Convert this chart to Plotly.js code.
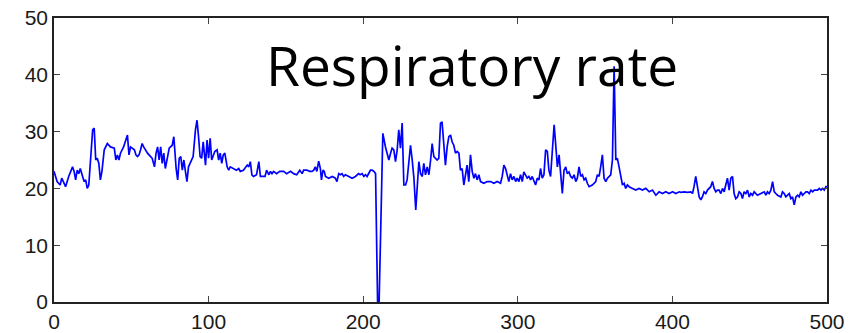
<!DOCTYPE html>
<html>
<head>
<meta charset="utf-8">
<script src="https://cdn.plot.ly/plotly-3.0.1.min.js"></script>
<style>html,body{margin:0;padding:0;background:#fff;}#chart{width:858px;height:333px;}</style>
</head>
<body>
<div id="chart"></div>
<script>
const chartTitle = "Respiratory rate";
const xTicks = [0, 100, 200, 300, 400, 500];
const yTicks = [0, 10, 20, 30, 40, 50];

const time = [
0,2,4,5,7.5,9.5,12,13,14,15,16,17,18.5,19.5,20.5,21.5,22.5,23.5,25,26,27,28,29,30,31,32.5,34.5,36.5,39,40,41,42,43,45,47.5,48.5,49.5,52,53,54,55,56,57,58,59.5,60.5,62.5,63.5,65,66,67,68,69,70,71,72,73.5,74.5,76.5,77.5,79,80,81,82,83,
84,85,86,87,89,90,91.5,92.5,93.5,94.5,95.5,96.5,98,99,100,101,102,103,104,105.5,106.5,107.5,108.5,109.5,110.5,112,113,114,116,118,119.5,120.5,122.5,125,126,127,128,129,131,132.5,133.5,134.5,136.5,137.5,139,140,141,142,144,146,148.5,150.5,153,155,157,159,160.5,161.5,163.5,165.5,
166.9,168,169,170,171.2,172.3,173,174,174.8,175.6,177.7,180,182,183,184.2,185.3,186.3,187.4,188.5,190.7,192.8,195,197,198,199.3,200.4,201.5,202.5,203.6,204.7,205.8,206.9,208,209.3,210.3,212.7,214.4,216.6,217.7,218.7,219.8,220.9,222,223,224.1,225.2,226.3,227.4,228.4,229.5,230.6,231.7,232.8,234,235,236,237.1,238.2,239.2,240.3,241.4,242.5,243.6,244.6,245.7,
246.7,247.8,248.9,250,251,252.1,253.2,254.3,255.4,256.5,257.5,258.6,259.7,260.8,261.9,262.9,264,265.1,266.2,267.2,268.3,269.4,270.5,271.6,272.6,273.7,274.8,275.9,278,280.2,282.4,284.5,286.7,288.8,289.9,291,292.1,293.2,294.2,295.3,296.4,297.5,298.6,299.6,300.7,301.8,302.9,303.9,305,306.1,307.2,308.3,309.3,310.4,311.5,312.6,313.7,314.7,315.8,316.9,318,319.1,320.1,321.2,322.3,323.5,325,
325.6,326.7,327.7,328.8,329.9,331,332,333.1,334.2,335.3,336.4,337.5,338.5,339.6,340.7,341.8,342.9,343.9,345,346.1,348.2,350.4,351.5,352.6,353.6,354.7,355.8,356.9,358,359,360.1,361.2,362.3,363.4,364.4,365.5,366.6,367.7,368.8,369.8,370.9,372,374.2,376.3,378.5,380.6,382.8,385,387.1,389.3,391.4,393.6,395.7,397.9,400.1,402.2,404.4,
405.4,407.6,409.7,411.9,413,414,415.1,416.2,417.3,418.4,419.4,420.5,421.6,422.7,423.8,424.8,425.9,427,428.1,429.1,430.2,431.3,432.4,433.5,434.5,435.6,436.7,437.8,438.9,439.9,441,442.1,443.2,444.3,445.3,446.4,447.5,448.6,449.7,450.7,451.8,452.9,455,457.2,459.4,460.5,461.5,462.6,463.7,464.8,465.9,466.9,468,470.2,471.2,472.3,473.4,474.5,475.6,476.6,477.7,478.8,479.9,481,482,483.1,484.2,485.3,486.4,487.4,488.5,489.6,490.7,491.8,493.9,495,496.1,497.2,498.2,499.3,500
];

const respRate = [
23.0,21.2,20.6,21.8,20.3,22.1,23.8,23.0,21.5,23.2,22.6,23.5,22.1,21.2,21.5,20.0,20.6,25.0,30.3,30.6,25.0,25.3,24.4,21.5,23.0,26.8,27.9,27.3,27.1,25.0,25.9,25.0,26.2,27.3,29.4,25.9,27.3,26.8,25.9,25.6,25.9,26.8,27.9,27.3,26.5,26.2,25.6,25.3,23.8,26.2,27.3,25.0,27.3,24.4,26.2,23.5,25.6,27.1,27.6,29.1,23.5,21.5,25.3,25.6,23.2,
25.0,23.0,21.2,23.8,25.0,25.6,30.3,32.0,29.1,25.6,25.3,28.2,24.1,28.5,25.3,28.8,25.0,25.6,26.5,26.8,25.0,26.2,24.4,25.9,26.2,23.8,23.2,23.8,23.5,23.2,23.5,23.0,23.2,24.1,23.8,24.7,22.4,22.1,22.4,24.7,22.1,22.1,22.1,23.2,22.4,23.0,22.6,23.0,22.6,23.0,23.0,22.6,23.0,22.6,22.4,23.2,22.6,23.2,23.2,23.0,
23.0,23.2,23.8,23.0,24.8,23.5,21.5,23.2,23.0,22.1,21.8,22.1,21.8,21.2,22.6,22.4,22.6,22.1,22.4,22.1,21.8,22.1,22.6,22.4,22.6,22.1,22.4,22.1,22.6,23.2,23.2,23.0,22.6,0,0,29.7,27.3,25.0,26.2,27.1,26.8,24.7,26.8,30.3,27.1,31.5,20.6,20.6,21.5,24.4,27.6,25.0,21.8,16.2,19.8,24.7,22.6,22.1,24.4,22.4,23.8,22.4,25.0,27.9,25.6,
25.3,25.0,25.3,31.5,31.7,27.9,24.1,27.3,29.1,29.4,28.2,27.6,26.2,26.5,26.2,23.2,23.5,20.6,22.1,24.1,21.2,25.9,23.0,21.8,22.6,21.5,22.4,21.2,20.9,21.2,21.2,20.9,21.2,20.9,22.1,24.1,23.5,22.1,21.2,22.6,21.5,22.1,21.2,21.8,21.2,22.4,21.2,22.9,22.4,21.8,22.1,21.5,22.1,21.2,20.6,21.8,21.5,23.5,21.8,22.4,26.8,26.5,23.2,22.1,26.8,31.2,26.0,
23.8,25.9,22.6,19.1,23.2,23.8,22.6,22.9,22.1,21.8,22.4,21.2,21.8,23.8,22.1,22.4,21.5,21.8,20.9,20.3,20.6,21.2,22.4,22.1,23.8,25.9,21.8,21.2,21.8,22.1,22.4,25.0,41.5,25.0,25.3,23.8,22.4,20.6,20.9,20.0,20.6,20.3,20.0,19.7,20.0,19.7,20.0,19.4,19.7,18.8,19.4,19.1,19.4,19.1,19.4,19.1,19.4,
19.3,19.4,19.3,19.4,19.1,20.3,22.1,20.3,18.5,18.0,18.5,19.4,19.1,19.7,20.0,20.3,21.2,20.0,19.4,19.7,19.7,19.1,20.0,19.4,20.6,21.8,19.7,21.8,22.1,19.1,18.2,18.5,19.4,19.1,18.2,19.4,19.1,19.7,18.5,19.1,18.8,19.4,18.8,19.1,19.4,18.8,19.4,19.1,19.7,21.2,19.4,19.1,18.8,18.5,19.4,19.1,18.5,18.8,19.1,18.2,18.5,17.1,18.5,18.8,18.5,19.4,18.8,19.1,19.4,19.4,19.1,19.7,19.4,19.7,19.7,20.0,19.7,20.0,19.7,20.3,20.3
];

const trace = {
  x: time,
  y: respRate,
  type: 'scatter',
  mode: 'lines',
  line: {color: '#0000ff', width: 1.7},
  hoverinfo: 'skip'
};

const axisCommon = {
  showgrid: false,
  zeroline: false,
  showline: true,
  linecolor: '#222',
  linewidth: 1.8,
  mirror: 'ticks',
  ticks: 'inside',
  ticklen: 6,
  tickwidth: 1.2,
  tickcolor: '#444',
  tickfont: {family: 'Liberation Sans, Arial, sans-serif', size: 21, color: '#1a1a1a'}
};

const layout = {
  width: 858,
  height: 333,
  margin: {l: 54, r: 31, t: 18, b: 31, pad: 0},
  paper_bgcolor: '#fff',
  plot_bgcolor: '#fff',
  showlegend: false,
  xaxis: Object.assign({}, axisCommon, {range: [0, 500], tickvals: xTicks, ticktext: xTicks.map(String)}),
  yaxis: Object.assign({}, axisCommon, {range: [0, 50], tickvals: yTicks, ticktext: yTicks.map(String)}),
  annotations: [{
    text: chartTitle,
    xref: 'paper', yref: 'paper',
    x: 0.272, y: 0.838,
    xanchor: 'left', yanchor: 'middle',
    showarrow: false,
    font: {family: 'Open Sans, sans-serif', size: 55, color: '#000'}
  }]
};

Plotly.newPlot('chart', [trace], layout, {displayModeBar: false, staticPlot: true});
</script>
</body>
</html>
